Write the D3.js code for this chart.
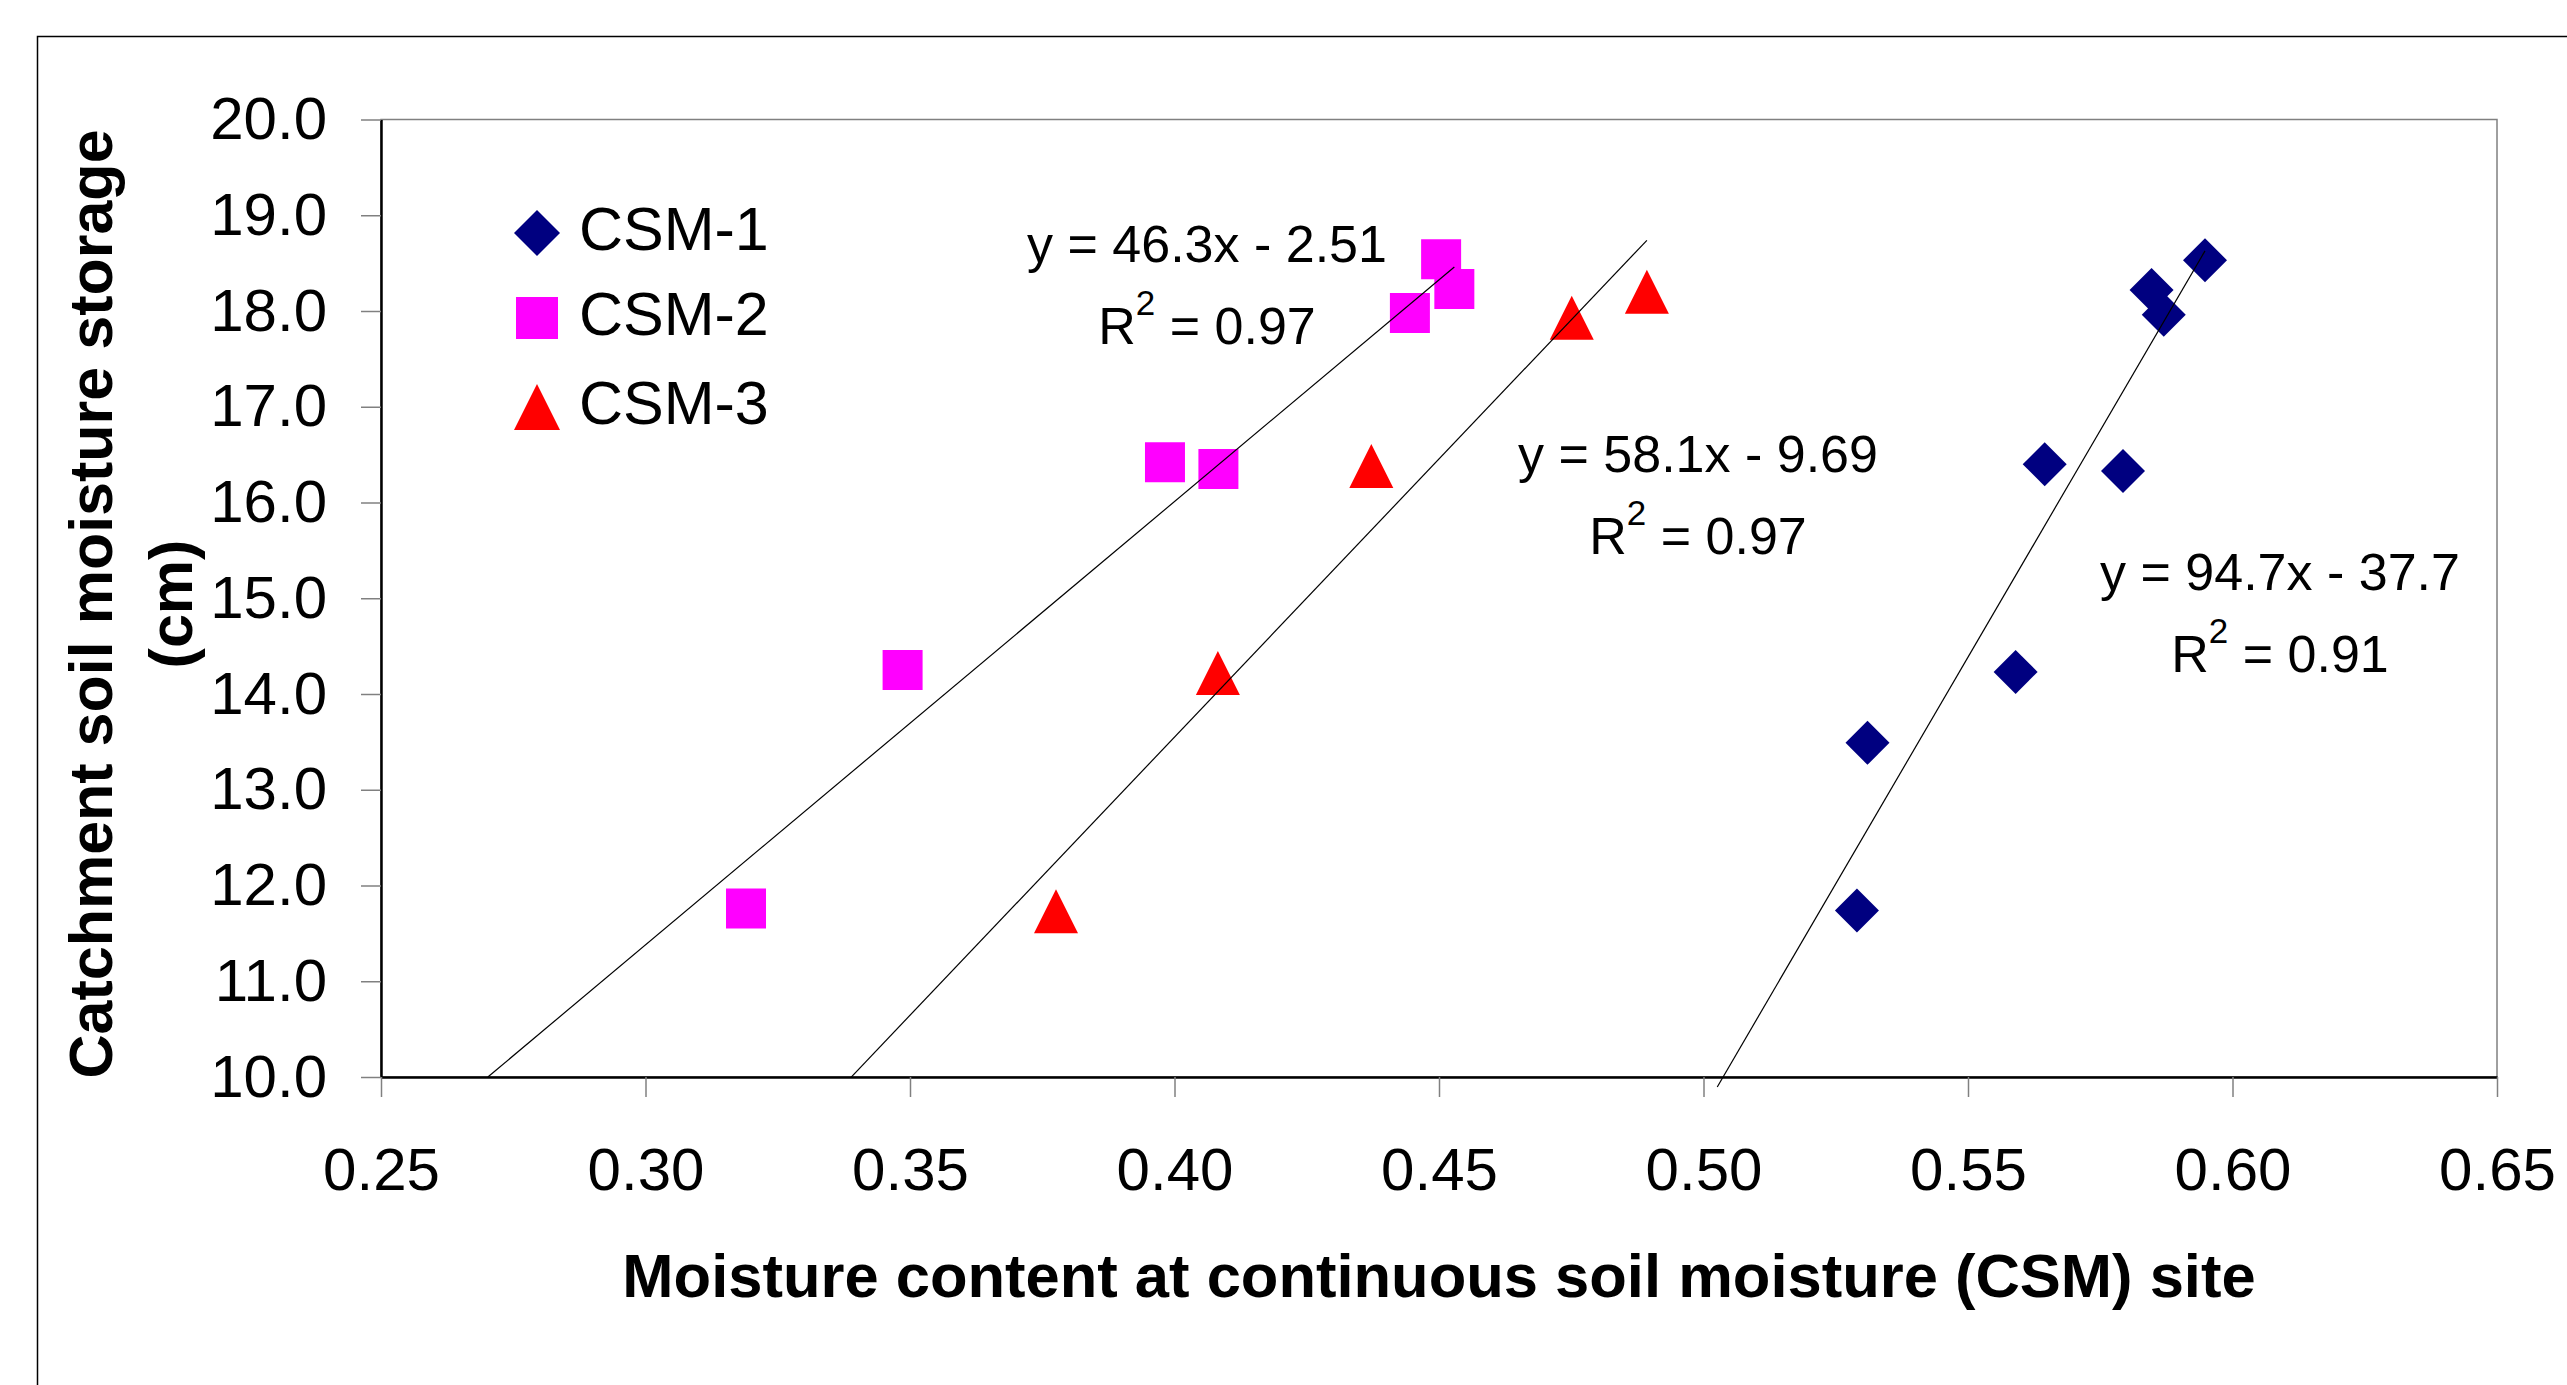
<!DOCTYPE html>
<html>
<head>
<meta charset="utf-8">
<script src="https://cdn.jsdelivr.net/npm/d3@7"></script>
<style>
  html, body { margin: 0; padding: 0; background: #fff; overflow: hidden; }
  text { font-family: "Liberation Sans", Arial, sans-serif; fill: #000; }
</style>
</head>
<body>
<svg id="chart" width="2567" height="1385"></svg>
<script>
// Series names and marker colours
const seriesNames = ['CSM-1', 'CSM-2', 'CSM-3'];
const seriesColors = ['#000080', '#ff00ff', '#ff0000'];

// Moisture content (x) and catchment storage (y)
const csm1X = [0.529, 0.531, 0.559, 0.5645, 0.5793, 0.5847, 0.587, 0.5948];
const csm1Y = [11.74, 13.49, 14.23, 16.40, 16.33, 18.22, 17.96, 18.53];
const csm2X = [0.319, 0.3486, 0.3982, 0.4083, 0.4445, 0.4504, 0.4529];
const csm2Y = [11.76, 14.25, 16.42, 16.35, 17.98, 18.54, 18.23];
const csm3X = [0.3776, 0.4082, 0.4372, 0.4751, 0.4893];
const csm3Y = [11.73, 14.22, 16.38, 17.93, 18.20];

// Linear trend lines (slope, intercept) and the x span each one covers
const trendSlope = [94.7, 46.3, 58.1];
const trendIntercept = [-37.7, -2.51, -9.69];
const trendXStart = [0.5026, 0.2702, 0.3388];
const trendXEnd = [0.5948, 0.4529, 0.4893];

// Equation labels
const eqText = ['y = 94.7x - 37.7', 'y = 46.3x - 2.51', 'y = 58.1x - 9.69'];
const r2Text = ['0.91', '0.97', '0.97'];

// Axis ticks
const xTicks = [0.25, 0.30, 0.35, 0.40, 0.45, 0.50, 0.55, 0.60, 0.65];
const yTicks = [10, 11, 12, 13, 14, 15, 16, 17, 18, 19, 20];

const svg = d3.select('#chart');

// outer chart border (runs off the right / bottom of the picture)
svg.append('rect')
  .attr('x', 37.5).attr('y', 36.5)
  .attr('width', 3000).attr('height', 2000)
  .attr('fill', 'none').attr('stroke', '#000').attr('stroke-width', 1.5);

const plot = {left: 381, right: 2497, top: 119.5, bottom: 1077};

const x = d3.scaleLinear().domain([0.25, 0.65]).range([plot.left, plot.right]);
const y = d3.scaleLinear().domain([10, 20]).range([plot.bottom, plot.top]);

// plot area frame (grey top / right)
svg.append('rect')
  .attr('x', plot.left).attr('y', plot.top)
  .attr('width', plot.right - plot.left).attr('height', plot.bottom - plot.top)
  .attr('fill', 'none').attr('stroke', '#808080').attr('stroke-width', 1.5);

// axes
const yAxis = svg.append('g')
  .attr('transform', `translate(${plot.left},0)`)
  .call(d3.axisLeft(y).tickValues(yTicks).tickFormat(d3.format('.1f'))
    .tickSize(20).tickSizeOuter(0).tickPadding(34));

const xAxis = svg.append('g')
  .attr('transform', `translate(0,${plot.bottom})`)
  .call(d3.axisBottom(x).tickValues(xTicks).tickFormat(d3.format('.2f'))
    .tickSize(20).tickSizeOuter(0).tickPadding(50));

[xAxis, yAxis].forEach(g => {
  g.select('.domain').attr('stroke', '#000').attr('stroke-width', 2.5);
  g.selectAll('.tick line').attr('stroke', '#808080').attr('stroke-width', 1.5);
  g.selectAll('.tick text')
    .attr('fill', '#000')
    .style('font-size', '60px')
    .style('font-family', '"Liberation Sans", Arial, sans-serif');
});

// axis titles
svg.append('text')
  .attr('x', 1439).attr('y', 1297)
  .attr('text-anchor', 'middle')
  .style('font-size', '61.5px').style('font-weight', 'bold')
  .text('Moisture content at continuous soil moisture (CSM) site');

const yTitle = svg.append('text')
  .attr('transform', 'translate(112,604) rotate(-90)')
  .attr('text-anchor', 'middle')
  .style('font-size', '61px').style('font-weight', 'bold');
yTitle.append('tspan').attr('x', 0).attr('y', 0).text('Catchment soil moisture storage');
yTitle.append('tspan').attr('x', 0).attr('y', 80).text('(cm)');

// marker shapes (size = full width in px)
const diamond = {
  draw(ctx, s) { const h = s / 2; ctx.moveTo(0, -h); ctx.lineTo(h, 0); ctx.lineTo(0, h); ctx.lineTo(-h, 0); ctx.closePath(); }
};
const square = {
  draw(ctx, s) { const h = s / 2; ctx.rect(-h, -h, s, s); }
};
const triangle = {
  draw(ctx, s) { const h = s / 2; ctx.moveTo(0, -h); ctx.lineTo(h, h); ctx.lineTo(-h, h); ctx.closePath(); }
};
const shapes = [diamond, square, triangle];
const shapeSize = [44, 40, 44];

const seriesX = [csm1X, csm2X, csm3X];
const seriesY = [csm1Y, csm2Y, csm3Y];

seriesNames.forEach((name, i) => {
  const pts = seriesX[i].map((v, j) => ({x: v, y: seriesY[i][j]}));
  svg.append('g')
    .selectAll('path')
    .data(pts)
    .join('path')
    .attr('transform', d => `translate(${x(d.x)},${y(d.y)})`)
    .attr('d', d3.symbol().type(shapes[i]).size(shapeSize[i]))
    .attr('fill', seriesColors[i]);
});

// trend lines on top of markers
seriesNames.forEach((name, i) => {
  const line = d3.line().x(d => x(d)).y(d => y(trendSlope[i] * d + trendIntercept[i]));
  svg.append('path')
    .attr('d', line([trendXStart[i], trendXEnd[i]]))
    .attr('fill', 'none').attr('stroke', '#000').attr('stroke-width', 1.2);
});

// equation labels
const eqPos = [[2280, 590], [1207, 262], [1698, 472]];
eqPos.forEach((p, i) => {
  svg.append('text')
    .attr('x', p[0]).attr('y', p[1])
    .attr('text-anchor', 'middle')
    .style('font-size', '52px')
    .text(eqText[i]);
  const r = svg.append('text')
    .attr('x', p[0]).attr('y', p[1] + 82)
    .attr('text-anchor', 'middle')
    .style('font-size', '52px');
  r.append('tspan').text('R');
  r.append('tspan').attr('dy', -29).style('font-size', '35px').text('2');
  r.append('tspan').attr('dy', 29).text(' = ' + r2Text[i]);
});

// legend
const legendY = [233, 318, 407];
const legend = svg.append('g');
seriesNames.forEach((name, i) => {
  legend.append('path')
    .attr('transform', `translate(537,${legendY[i]})`)
    .attr('d', d3.symbol().type(shapes[i]).size(shapeSize[i] + 2))
    .attr('fill', seriesColors[i]);
  legend.append('text')
    .attr('x', 579).attr('y', legendY[i] + 17)
    .style('font-size', '61px')
    .text(name);
});
</script>
</body>
</html>
